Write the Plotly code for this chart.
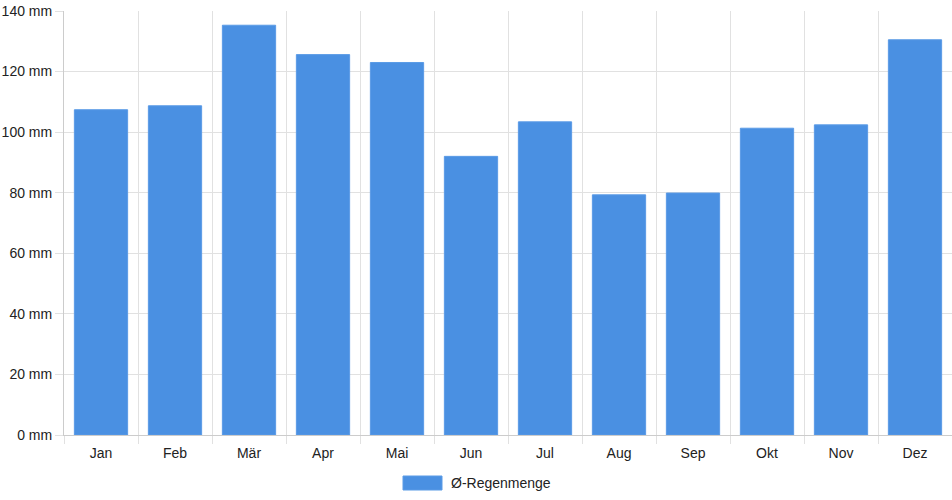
import plotly.graph_objects as go

# Monthly average rainfall
months = ["Jan", "Feb", "Mär", "Apr", "Mai", "Jun", "Jul", "Aug", "Sep", "Okt", "Nov", "Dez"]
rain_mm = [107.4, 108.7, 135.3, 125.6, 123.0, 92.0, 103.4, 79.3, 79.9, 101.3, 102.4, 130.5]
series_name = "Ø-Regenmenge"
y_ticks = [0, 20, 40, 60, 80, 100, 120, 140]
y_labels = [f"{v} mm" for v in y_ticks]

bar_color = "#4a90e2"
grid_color = "#e1e1e1"

fig = go.Figure()
fig.add_trace(go.Bar(
    x=months, y=rain_mm, name=series_name,
    marker=dict(color=bar_color, line=dict(color="#5b9be6", width=1)),
    width=0.72, showlegend=False,
))

fig.update_layout(
    width=952, height=500,
    margin=dict(l=64, r=0, t=11, b=65),
    paper_bgcolor="white", plot_bgcolor="white",
    font=dict(family="Liberation Sans, Arial, sans-serif", size=14, color="#222222"),
)
fig.update_xaxes(
    type="category", tickson="boundaries",
    showgrid=True, gridcolor=grid_color, gridwidth=1,
    ticks="outside", ticklen=8, tickcolor=grid_color,
    showline=True, linecolor="#cccccc", linewidth=1,
    ticklabelstandoff=5, automargin=False,
)
fig.update_yaxes(
    range=[0, 140], tickvals=y_ticks, ticktext=y_labels,
    showgrid=True, gridcolor=grid_color, gridwidth=1,
    ticks="outside", ticklen=8, tickcolor=grid_color,
    showline=True, linecolor="#cccccc", linewidth=1,
    zeroline=False, ticklabelstandoff=0, automargin=False,
)

# legend drawn like the original: wide colour box + label, centred under the chart
fig.add_shape(type="rect", xref="paper", yref="paper",
              x0=(403 - 64) / 888, x1=(442 - 64) / 888,
              y0=-(490 - 435) / 424, y1=-(476 - 435) / 424,
              fillcolor=bar_color, line=dict(color="#5b9be6", width=1))
fig.add_annotation(text=series_name, xref="paper", yref="paper",
                   x=(449 - 64) / 888, y=-(483 - 435) / 424,
                   xanchor="left", yanchor="middle", showarrow=False,
                   font=dict(size=14, color="#222222"))

# drop the default 8px page margin so the figure sits at the window edge
fig.write_html("out.html", config={"displayModeBar": False},
               post_script="document.body.style.margin = '0';")
